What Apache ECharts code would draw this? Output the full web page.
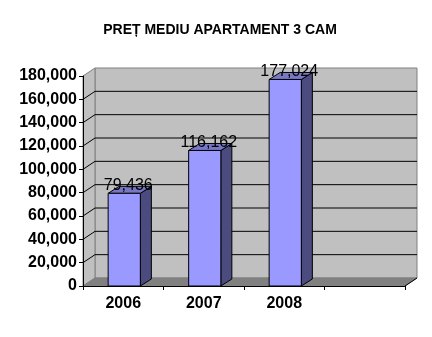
<!DOCTYPE html>
<html><head><meta charset="utf-8">
<script src="https://cdn.jsdelivr.net/npm/echarts@6/dist/echarts.min.js"></script>
<style>html,body{margin:0;padding:0;background:#fff}#c{width:432px;height:337px}</style>
</head><body><div id="c"></div>
<script>
const titleText = 'PREȚ MEDIU APARTAMENT 3 CAM';
const categories = ['2006', '2007', '2008', ''];
const prices = [79436, 116162, 177024];
const gridValues = [20000, 40000, 60000, 80000, 100000, 120000, 140000, 160000];

const DX = 12, DY = -8;      // wall depth offset
const BDX = 11, BDY = -7;    // bar depth offset
const FONT = '"Liberation Sans", Arial, sans-serif';

function fmt(v) { return String(v).replace(/\B(?=(\d{3})+(?!\d))/g, ','); }

function renderWalls(params, api) {
  const c = params.coordSys;
  const gx = c.x, gy = c.y, gw = c.width, gh = c.height;
  return { type: 'group', children: [
    { type: 'rect', shape: { x: gx + DX, y: gy + DY, width: gw, height: gh },
      style: { fill: '#C0C0C0', stroke: '#808080', lineWidth: 1 } },
    { type: 'polygon', shape: { points: [[gx, gy], [gx + DX, gy + DY], [gx + DX, gy + gh + DY], [gx, gy + gh]] },
      style: { fill: '#C0C0C0', stroke: '#808080', lineWidth: 1 } },
    { type: 'polygon', shape: { points: [[gx, gy + gh], [gx + DX, gy + gh + DY], [gx + gw + DX, gy + gh + DY], [gx + gw, gy + gh]] },
      style: { fill: '#808080', stroke: '#808080', lineWidth: 1 } },
    { type: 'line', shape: { x1: gx + gw, y1: gy + gh, x2: gx + gw + DX, y2: gy + gh + DY },
      style: { stroke: '#000', lineWidth: 1 } }
  ]};
}

function renderGrid(params, api) {
  const c = params.coordSys;
  const p = api.coord([0, api.value(1)]);
  const y = p[1];
  return { type: 'group', children: [
    { type: 'line', shape: { x1: c.x + DX, y1: y + DY, x2: c.x + c.width + DX, y2: y + DY },
      style: { stroke: '#000', lineWidth: 1 } },
    { type: 'line', shape: { x1: c.x, y1: y, x2: c.x + DX, y2: y + DY },
      style: { stroke: '#000', lineWidth: 1 } }
  ]};
}

function renderBar(params, api) {
  const idx = api.value(0), val = api.value(1);
  const top = api.coord([idx, val]);
  const base = api.coord([idx, 0]);
  const w = api.size([1, 0])[0] * 0.4;
  const x0 = top[0] - w / 2 + 1, x1 = top[0] + w / 2 + 1;
  const ty = top[1], by = base[1];
  return { type: 'group', children: [
    { type: 'polygon', shape: { points: [[x1, ty], [x1 + BDX, ty + BDY], [x1 + BDX, by + BDY], [x1, by]] },
      style: { fill: '#4B4B80', stroke: '#000', lineWidth: 1 } },
    { type: 'polygon', shape: { points: [[x0, ty], [x0 + BDX, ty + BDY], [x1 + BDX, ty + BDY], [x1, ty]] },
      style: { fill: '#7777C4', stroke: '#000', lineWidth: 1 } },
    { type: 'rect', shape: { x: x0, y: ty, width: w, height: by - ty },
      style: { fill: '#9999FF', stroke: '#000', lineWidth: 1 } },
    { type: 'text', x: top[0] + 5, y: ty - 8,
      style: { text: fmt(val), fill: '#000', font: '16px ' + FONT, align: 'center', verticalAlign: 'middle' } }
  ]};
}

const chart = echarts.init(document.getElementById('c'), null, { renderer: 'canvas' });
chart.setOption({
  animation: false,
  backgroundColor: '#fff',
  title: { text: titleText, left: 215, top: 18, textAlign: 'center',
    textStyle: { fontFamily: FONT, fontWeight: 'bold', fontSize: 14, color: '#000' } },
  grid: { left: 83, right: 27, top: 76, bottom: 51 },
  xAxis: {
    type: 'category', data: categories, boundaryGap: true, z: 5,
    axisLine: { lineStyle: { color: '#000', width: 1 } },
    axisTick: { show: true, length: 4, interval: 0, lineStyle: { color: '#000' } },
    axisLabel: { interval: 0, margin: 10, color: '#000', fontFamily: FONT, fontWeight: 'bold', fontSize: 16 },
    splitLine: { show: false }
  },
  yAxis: {
    type: 'value', min: 0, max: 180000, interval: 20000, z: 5,
    axisLine: { show: true, lineStyle: { color: '#000', width: 1 } },
    axisTick: { show: true, length: 4, lineStyle: { color: '#000' } },
    axisLabel: { margin: 6, color: '#000', fontFamily: FONT, fontWeight: 'bold', fontSize: 16, formatter: v => fmt(v) },
    splitLine: { show: false }
  },
  series: [
    { type: 'custom', renderItem: renderWalls, data: [[0, 0]], z: 1, silent: true },
    { type: 'custom', renderItem: renderGrid, data: gridValues.map(v => [0, v]), z: 2, silent: true },
    { type: 'custom', renderItem: renderBar, data: prices.map((v, i) => [i, v]), z: 3 }
  ]
});
</script>
</body></html>
